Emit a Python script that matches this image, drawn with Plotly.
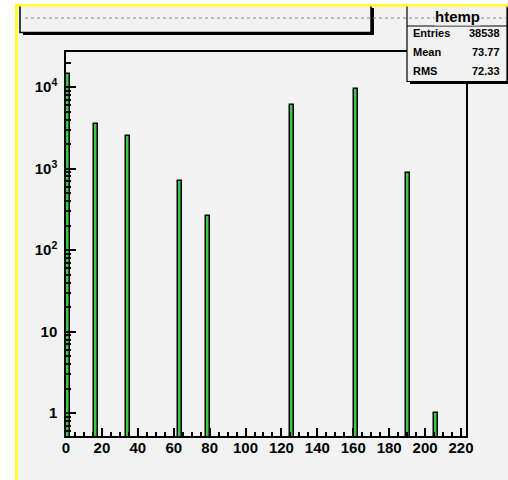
import plotly.graph_objects as go

# ---- data ----
bin_centers = [1.1, 16.7, 34.6, 63.6, 79.2, 126.0, 161.7, 190.7, 206.3]
bin_counts = [14300, 3510, 2520, 714, 265, 6030, 9600, 890, 1]
bin_width = 2.23
x_tick_vals = [0, 20, 40, 60, 80, 100, 120, 140, 160, 180, 200, 220]
y_tick_vals = [1, 10, 100, 1000, 10000]
y_tick_text = ["1", "10", "10<sup>2</sup>", "10<sup>3</sup>", "10<sup>4</sup>"]
stats_title = "htemp"
stats_labels = ["Entries", "Mean", "RMS"]
stats_values = ["38538", "73.77", "72.33"]

W, H = 508, 480
L, R, T, B = 66, 466, 52, 436  # plot frame in pixels


def px(x):
    return (x - L) / (R - L)


def py(y):
    return (B - y) / (B - T)


CANVAS = "#f2f2f2"
minor_y = [m * 10 ** k for k in range(-1, 5) for m in range(2, 10)]
minor_y = [v for v in minor_y if 0.5 < v < 27000]

fig = go.Figure()
fig.add_trace(go.Bar(
    x=bin_centers, y=bin_counts, width=bin_width,
    marker=dict(color="#3fc83f", line=dict(color="black", width=1.5)),
    showlegend=False, hoverinfo="skip",
))

shapes = []
# yellow border + gray canvas
shapes.append(dict(type="rect", xref="paper", yref="paper", layer="below",
                   x0=px(15), x1=px(520), y0=py(4), y1=py(490),
                   fillcolor="#ffff33", line=dict(width=0)))
shapes.append(dict(type="rect", xref="paper", yref="paper", layer="below",
                   x0=px(18), x1=px(520), y0=py(7), y1=py(490),
                   fillcolor=CANVAS, line=dict(width=0)))
# title box with shadow (top edge hidden under the canvas border)
shapes.append(dict(type="rect", xref="paper", yref="paper", layer="above",
                   x0=px(23), x1=px(374), y0=py(8), y1=py(35),
                   fillcolor="black", line=dict(width=0)))
shapes.append(dict(type="rect", xref="paper", yref="paper", layer="above",
                   x0=px(20), x1=px(371), y0=py(5), y1=py(32.5),
                   fillcolor=CANVAS, line=dict(color="black", width=1.5)))
# stats box with shadow
shapes.append(dict(type="rect", xref="paper", yref="paper", layer="above",
                   x0=px(410), x1=px(512), y0=py(8), y1=py(84),
                   fillcolor="black", line=dict(width=0)))
shapes.append(dict(type="rect", xref="paper", yref="paper", layer="above",
                   x0=px(407), x1=px(507), y0=py(5), y1=py(81.5),
                   fillcolor=CANVAS, line=dict(color="black", width=1.2)))
shapes.append(dict(type="line", xref="paper", yref="paper", layer="above",
                   x0=px(407), x1=px(507), y0=py(26), y1=py(26),
                   line=dict(color="black", width=1.2)))
# restore the yellow top border over the boxes
shapes.append(dict(type="rect", xref="paper", yref="paper", layer="above",
                   x0=px(15), x1=px(520), y0=py(4), y1=py(6.5),
                   fillcolor="#ffff33", line=dict(width=0)))
# faint dotted title line
shapes.append(dict(type="line", xref="paper", yref="paper", layer="above",
                   x0=px(25), x1=px(507), y0=py(18), y1=py(18),
                   line=dict(color="#8a8a8a", width=1, dash="dot")))

annotations = [dict(text="<b>%s</b>" % stats_title, xref="paper", yref="paper",
                    x=px(457), y=py(16), xanchor="center", yanchor="middle",
                    showarrow=False,
                    font=dict(family="Liberation Sans", size=15, color="black"),
                    bgcolor=CANVAS, borderpad=0)]
row_y = [33, 52, 71]
for lab, val, yy in zip(stats_labels, stats_values, row_y):
    annotations.append(dict(text="<b>%s</b>" % lab, xref="paper", yref="paper",
                            x=px(411), y=py(yy), xanchor="left", yanchor="middle",
                            showarrow=False,
                            font=dict(family="Liberation Sans", size=11, color="black")))
    annotations.append(dict(text="<b>%s</b>" % val, xref="paper", yref="paper",
                            x=px(502), y=py(yy), xanchor="right", yanchor="middle",
                            showarrow=False,
                            font=dict(family="Liberation Sans", size=11, color="black")))

tickfont = dict(family="Liberation Sans", size=15, color="black", weight="bold")
fig.update_layout(
    width=W, height=H,
    margin=dict(l=L, r=W - R, t=T, b=H - B, pad=0),
    paper_bgcolor="white",
    plot_bgcolor="rgba(0,0,0,0)",
    shapes=shapes,
    annotations=annotations,
    bargap=0,
    xaxis=dict(range=[0, 222.8], tickmode="array", tickvals=x_tick_vals,
               ticks="inside", ticklen=8, tickwidth=1.5, tickcolor="black",
               minor=dict(dtick=5, tick0=0, ticks="inside", ticklen=4,
                          tickwidth=1.5, tickcolor="black"),
               showline=True, linecolor="black", linewidth=1.5, mirror=True,
               showgrid=False, zeroline=False, tickfont=tickfont, ticklabelstandoff=-3),
    yaxis=dict(type="log", range=[-0.28, 4.43], tickmode="array",
               tickvals=y_tick_vals, ticktext=y_tick_text,
               ticks="inside", ticklen=10, tickwidth=1.5, tickcolor="black",
               minor=dict(tickmode="array", tickvals=minor_y, ticks="inside",
                          ticklen=5, tickwidth=1.5, tickcolor="black"),
               showline=True, linecolor="black", linewidth=1.5, mirror=True,
               showgrid=False, zeroline=False, tickfont=tickfont, ticklabelstandoff=4),
)

# remove the browser's default 8px body margin so the figure sits at (0, 0)
fig.write_html("out.html",
               config={"displayModeBar": False},
               post_script="document.body.style.margin='0px';document.body.style.overflow='hidden';")
